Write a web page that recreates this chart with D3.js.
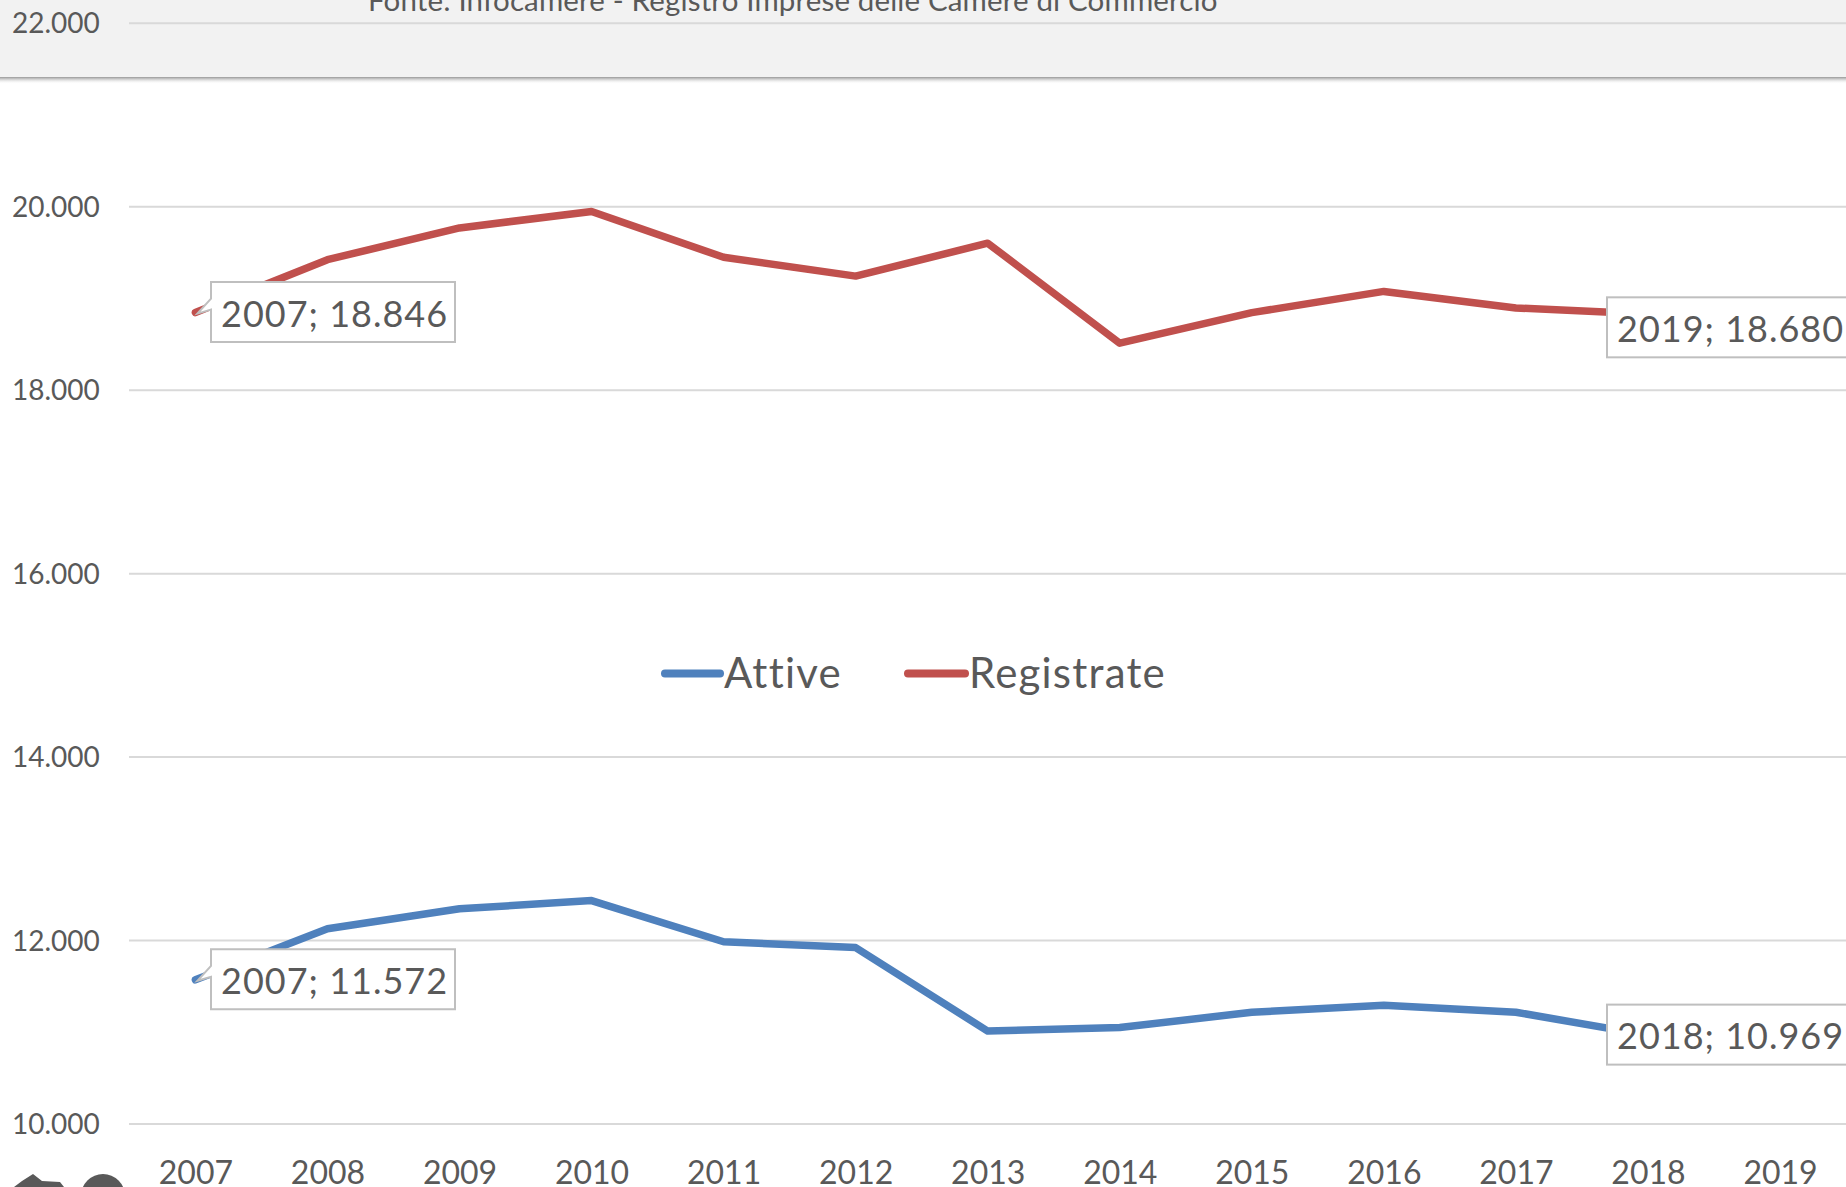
<!DOCTYPE html>
<html>
<head>
<meta charset="utf-8">
<script src="https://cdn.jsdelivr.net/npm/d3@7"></script>
<style>
  html, body { margin: 0; padding: 0; background: #ffffff; overflow: hidden; }
  svg { display: block; font-family: Lato, "Open Sans", sans-serif; }
</style>
</head>
<body>
<svg id="chart" width="1846" height="1187"></svg>
<script>
// ---- data ----
const years = ["2007","2008","2009","2010","2011","2012","2013","2014","2015","2016","2017","2018","2019"];
const attive = [11572, 12128, 12346, 12436, 11987, 11923, 11013, 11051, 11218, 11295, 11218, 10969];
const registrate = [18846, 19423, 19769, 19949, 19449, 19244, 19603, 18513, 18846, 19077, 18897, 18832, 18680];
const yTicks = [10000, 12000, 14000, 16000, 18000, 20000, 22000];
const seriesNames = ["Attive", "Registrate"];
const colors = ["#4f81bd", "#c0504d"];
const sourceText = "Fonte: Infocamere - Registro Imprese delle Camere di Commercio";

const svg = d3.select("#chart");
const W = 1846, H = 1187;
const textColor = "#595959";

const x = d3.scalePoint().domain(years).range([195.4, 1780]);
const y = d3.scaleLinear().domain([10000, 22000]).range([1124, 23.3]);
const fmt = v => d3.format(",")(v).replace(/,/g, ".");

// grey top panel with shadow
const defs = svg.append("defs");
const grad = defs.append("linearGradient").attr("id", "shadow").attr("x1", 0).attr("y1", 0).attr("x2", 0).attr("y2", 1);
grad.append("stop").attr("offset", "0").attr("stop-color", "#8c8c8c").attr("stop-opacity", 0.9);
grad.append("stop").attr("offset", "1").attr("stop-color", "#ffffff").attr("stop-opacity", 0);
svg.append("rect").attr("x", 0).attr("y", 0).attr("width", W).attr("height", 77).attr("fill", "#f2f2f2");
svg.append("rect").attr("x", 0).attr("y", 77).attr("width", W).attr("height", 7).attr("fill", "url(#shadow)");

svg.append("text").attr("x", 368).attr("y", 11).attr("font-size", 29.5).attr("letter-spacing", 0.15)
  .attr("fill", textColor).text(sourceText);

// gridlines
svg.append("g").selectAll("line").data(yTicks).join("line")
  .attr("x1", 129).attr("x2", W)
  .attr("y1", d => y(d)).attr("y2", d => y(d))
  .attr("stroke", "#d9d9d9").attr("stroke-width", 2);

// y labels
svg.append("g").selectAll("text").data(yTicks).join("text")
  .attr("x", 12).attr("y", d => y(d) + 10)
  .attr("font-size", 28).attr("fill", textColor)
  .text(d => fmt(d));

// x labels
const xAxis = d3.axisBottom(x).tickSize(0).tickPadding(0);
const gx = svg.append("g").attr("transform", "translate(0,1160)").call(xAxis);
gx.select(".domain").remove();
gx.selectAll("text").attr("font-size", 32).attr("fill", textColor)
  .attr("font-family", "Lato, 'Open Sans', sans-serif").attr("dy", "0.74em");

// lines
const line = d3.line().x((d, i) => x(years[i])).y(d => y(d));
[attive, registrate].forEach((s, k) => {
  svg.append("path").datum(s).attr("d", line).attr("fill", "none")
    .attr("stroke", colors[k]).attr("stroke-width", 7.5)
    .attr("stroke-linejoin", "round").attr("stroke-linecap", "round");
});

// data labels (callouts)
const labels = [
  { i: 0, s: registrate, left: 211, tail: true },
  { i: 12, s: registrate, left: 1607, tail: false },
  { i: 0, s: attive, left: 211, tail: true },
  { i: 11, s: attive, left: 1607, tail: false }
];
labels.forEach(l => {
  const px = x(years[l.i]), py = y(l.s[l.i]);
  const bw = 244, bh = 60, top = py - 30.5;
  const g = svg.append("g");
  if (l.tail) {
    const path = `M${l.left},${top} H${l.left + bw} V${top + bh} H${l.left} V${py - 3} L${px + 2},${py + 1} L${l.left},${py - 14} Z`;
    g.append("path").attr("d", path).attr("fill", "#ffffff").attr("stroke", "#bfbfbf").attr("stroke-width", 2);
  } else {
    g.append("rect").attr("x", l.left).attr("y", top).attr("width", bw).attr("height", bh)
      .attr("fill", "#ffffff").attr("stroke", "#bfbfbf").attr("stroke-width", 2);
  }
  g.append("text").attr("x", l.left + 10).attr("y", py + 14).attr("font-size", 36).attr("letter-spacing", 1)
    .attr("fill", textColor).text(years[l.i] + "; " + fmt(l.s[l.i]));
});

// legend
const legendItems = [
  { name: seriesNames[0], color: colors[0], x1: 665, x2: 720, tx: 724 },
  { name: seriesNames[1], color: colors[1], x1: 908, x2: 965, tx: 969 }
];
legendItems.forEach(it => {
  svg.append("line").attr("x1", it.x1).attr("x2", it.x2).attr("y1", 673.5).attr("y2", 673.5)
    .attr("stroke", it.color).attr("stroke-width", 8).attr("stroke-linecap", "round");
  svg.append("text").attr("x", it.tx).attr("y", 688).attr("font-size", 42).attr("letter-spacing", 1.2)
    .attr("fill", textColor).text(it.name);
});

// partial icons at bottom left
svg.append("path").attr("d", "M14,1187 L22,1181 L33,1174 L42,1181 L60,1182 L64,1187 Z").attr("fill", "#595959");
svg.append("circle").attr("cx", 103).attr("cy", 1196).attr("r", 22).attr("fill", "#595959");
</script>
</body>
</html>
